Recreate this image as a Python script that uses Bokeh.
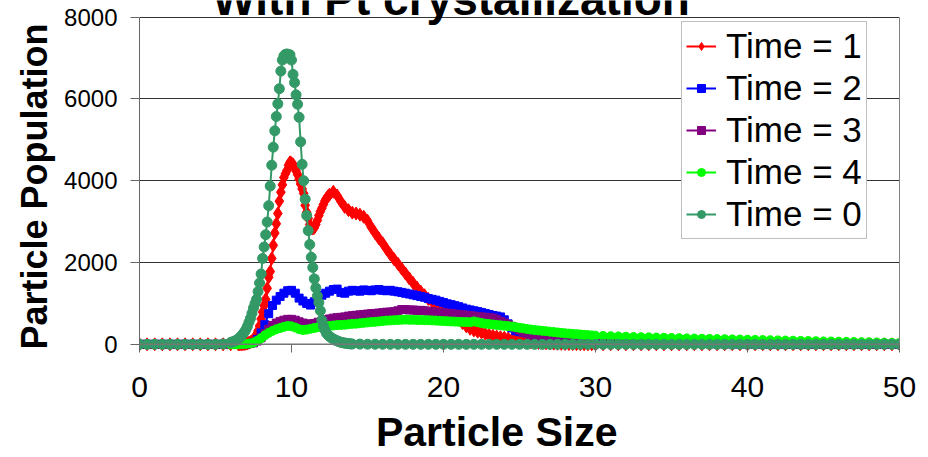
import numpy as np
from bokeh.plotting import figure
from bokeh.models import (Range1d, FixedTicker, Label, Legend, LegendItem, Span,
                          LinearAxis)
from bokeh.embed import file_html
from bokeh.resources import INLINE

# ---------------- data ----------------
title_text = "With Pt crystallization"
x_title = "Particle Size"
y_title = "Particle Population"
series_names = ["Time = 1", "Time = 2", "Time = 3", "Time = 4", "Time = 0"]
x_ticks = [0, 10, 20, 30, 40, 50]
y_ticks = [0, 2000, 4000, 6000, 8000]

# Time = 0 : segments (start, step, values)
t0_a = [0, 0, 0, 0, 0, 0, 0, 0, 0, 0, 0, 10]                     # 0 .. 5.5 step 0.5
t0_b = [45, 56, 70, 85, 105, 130, 165, 200, 250, 300,             # 6.0 .. 14.0 step 0.1
        360, 440, 540, 635, 760, 890, 1000, 1100, 1290, 1500,
        1720, 2100, 2380, 2680, 2990, 3390, 3870, 4380, 4820, 5220,
        5570, 5880, 6250, 6680, 6950, 7050, 7090, 7100, 7000, 7080,
        6950, 6600, 6400, 6100, 5870, 5550, 4950, 4400, 4000, 3550,
        3150, 2780, 2440, 2130, 1880, 1600, 1380, 1180, 1020, 820,
        590, 450, 350, 270, 230, 195, 165, 140, 120, 100,
        85, 70, 56, 45, 38, 30, 25, 20, 15, 10, 8]
t0_c = [5, 3, 2, 1, 0, 0, 0, 0, 0, 0, 0, 0, 0, 0, 0, 0, 0, 0,      # 14.5 .. 50 step 0.5
        0, 0, 0, 0, 0, 0, 0, 0, 0, 0, 0, 0, 0, 0, 0, 0, 0, 0,
        0, 0, 0, 0, 0, 0, 0, 0, 0, 0, 0, 0, 0, 0, 0, 0, 0, 0,
        0, 0, 0, 0, 0, 0, 0, 0, 0, 0, 0, 0, 0, 0, 0, 0, 0, 0]

# Time = 1
t1_a = [0, 0, 0, 0, 0, 0, 0, 0, 0, 0, 0, 0, 0, 0]                  # 0 .. 6.5 step 0.5
t1_b = [0, 0, 5, 10,                                               # 6.6 .. 12.4 step 0.1
        15, 25, 40, 55, 75, 100, 160, 240, 330, 450,
        620, 790, 950, 1100, 1370, 1640, 1780, 2100, 2420, 2720,
        2950, 3200, 3500, 3720, 3900, 4080, 4170, 4250, 4380, 4450,
        4430, 4400, 4330, 4240, 4150, 4040, 3920, 3800, 3690, 3400,
        3230, 3080, 2930, 2860, 2830, 2850, 2930, 3030, 3150, 3250,
        3330, 3420, 3510, 3570, 3620]
t1_c = [3660, 3730, 3640, 3490, 3360, 3280, 3220, 3200, 3170, 3120,  # 12.5 .. 30 step 0.25
        3020, 2860, 2720, 2590, 2470, 2330, 2200, 2080, 1970, 1850,
        1730, 1610, 1500, 1390, 1290, 1200, 1110, 1040, 990, 960,
        930, 880, 820, 720, 620, 520, 440, 380, 340, 310,
        290, 260, 230, 210, 190, 175, 160, 140, 120, 105,
        90, 75, 60, 50, 40, 35, 30, 25, 20, 17,
        14, 12, 10, 8, 6, 5, 4, 3, 2, 1, 0]
t1_d = [0, 0, 0, 0, 0, 0, 0, 0, 0, 0, 0, 0, 0, 0, 0, 0, 0, 0, 0, 0,  # 30.5 .. 50 step 0.5
        0, 0, 0, 0, 0, 0, 0, 0, 0, 0, 0, 0, 0, 0, 0, 0, 0, 0, 0, 0]

# Time = 2
t2_a = [0, 0, 0, 0, 0, 0, 0, 0, 0, 0, 0, 0, 0]                     # 0 .. 6 step 0.5
t2_b = [0, 0, 5, 10, 20, 40, 120, 280, 480, 750,                   # 6.25 .. 30 step 0.25
        950, 1080, 1170, 1250, 1310, 1320, 1250, 1130, 1060, 1000,
        960, 1040, 1150, 1200, 1250, 1300, 1340, 1350, 1270, 1250,
        1300, 1320, 1310, 1300, 1330, 1320, 1310, 1330, 1340, 1320,
        1310, 1320, 1300, 1285, 1270, 1250, 1230, 1210, 1190, 1170,
        1150, 1120, 1100, 1080, 1050, 1020, 990, 970, 945, 920,
        890, 860, 840, 820, 800, 780, 755, 730, 705, 690,
        670, 600, 500, 400, 330, 310, 295, 280, 265, 250,
        235, 220, 205, 195, 185, 175, 165, 155, 150, 145,
        140, 130, 120, 110, 105, 95, 90, 85, 80]
t2_c = [75, 70, 65, 60, 55, 50, 45, 40, 36, 32,                    # 30.5 .. 50 step 0.5
        28, 25, 22, 20, 18, 16, 14, 12, 10, 9,
        8, 7, 6, 5, 5, 4, 4, 3, 3, 3,
        2, 2, 2, 2, 1, 1, 1, 1, 1, 0]

# Time = 3
t3_a = [0, 0, 0, 0, 0, 0, 0, 0, 0, 0, 0, 0, 0]
t3_b = [0, 0, 5, 10, 20, 40, 80, 160, 260, 370,
        460, 520, 560, 590, 610, 610, 590, 550, 520, 500,
        490, 510, 540, 570, 600, 620, 640, 650, 660, 670,
        690, 700, 710, 720, 730, 740, 750, 755, 765, 775,
        785, 790, 800, 820, 850, 850, 840, 840, 830, 830,
        820, 810, 800, 790, 780, 770, 760, 750, 740, 730,
        720, 710, 700, 690, 680, 670, 660, 650, 640, 600,
        560, 520, 480, 440, 400, 350, 300, 260, 230, 200,
        185, 170, 160, 150, 140, 130, 125, 120, 110, 100,
        95, 90, 85, 80, 75, 70]
t3_c = [65, 60, 55, 50, 45, 42, 40, 36, 33, 30,
        27, 24, 22, 20, 18, 16, 14, 12, 11, 10,
        9, 8, 7, 6, 5, 5, 4, 4, 3, 3,
        3, 2, 2, 2, 2, 1, 1, 1, 1, 0]

# Time = 4
t4_a = [0, 0, 0, 0, 0, 0, 0, 0, 0, 0, 0, 0, 0]
t4_b = [0, 0, 5, 10, 20, 40, 90, 150, 220, 280,
        330, 370, 400, 430, 450, 440, 410, 370, 350, 360,
        380, 400, 420, 430, 440, 450, 460, 470, 475, 480,
        490, 500, 505, 515, 525, 535, 545, 550, 560, 570,
        580, 585, 590, 595, 600, 605, 600, 600, 595, 595,
        590, 590, 585, 580, 575, 570, 565, 560, 555, 550,
        548, 545, 540, 560, 540, 520, 505, 495, 485, 475,
        465, 455, 445, 435, 420, 405, 390, 375, 360, 350,
        340, 330, 320, 310, 300, 290, 280, 270, 262, 255,
        248, 240, 232, 225, 218, 212]
t4_c = [205, 198, 192, 186, 180, 175, 170, 165, 160, 155,
        150, 145, 140, 136, 132, 128, 124, 120, 116, 112,
        108, 104, 100, 96, 92, 88, 84, 80, 76, 72,
        68, 64, 60, 56, 52, 48, 44, 40, 36, 32]

t0_segments = [(0.0, 0.5, t0_a), (6.0, 0.1, t0_b), (14.5, 0.5, t0_c)]
t1_segments = [(0.0, 0.5, t1_a), (6.6, 0.1, t1_b), (12.5, 0.25, t1_c), (30.5, 0.5, t1_d)]
t2_segments = [(0.0, 0.5, t2_a), (6.25, 0.25, t2_b), (30.5, 0.5, t2_c)]
t3_segments = [(0.0, 0.5, t3_a), (6.25, 0.25, t3_b), (30.5, 0.5, t3_c)]
t4_segments = [(0.0, 0.5, t4_a), (6.25, 0.25, t4_b), (30.5, 0.5, t4_c)]


def build(segments):
    xs, ys = [], []
    for start, step, vals in segments:
        xs.extend(np.round(start + step * np.arange(len(vals)), 3).tolist())
        ys.extend(vals)
    return xs, ys


FONT = "Liberation Sans"
NB = "\u00a0"

p = figure(width=928, height=457,
           x_range=Range1d(0, 50), y_range=Range1d(-200, 8407),
           output_backend="svg", toolbar_location=None,
           min_border_left=139, min_border_right=29,
           min_border_top=0, min_border_bottom=104)

p.outline_line_color = None
p.background_fill_color = "white"
p.border_fill_color = "white"

# ---- axes ----
for ax in (p.xaxis, p.yaxis):
    ax.major_tick_line_color = "#666666"
    ax.minor_tick_line_color = None
    ax.major_label_text_font = FONT
    ax.major_label_text_color = "black"
    ax.axis_label_text_font = FONT
    ax.axis_label_text_font_style = "bold"
    ax.axis_label_text_color = "black"

p.xaxis.ticker = FixedTicker(ticks=x_ticks)
p.xaxis.axis_line_color = None
p.xaxis.major_tick_in = 8
p.xaxis.major_tick_out = 0
p.xaxis.major_label_text_font_size = "30px"
p.xaxis.major_label_standoff = 24
p.xaxis.axis_label = x_title + NB * 4
p.xaxis.axis_label_text_font_size = "41px"
p.xaxis.axis_label_standoff = 9

p.yaxis.ticker = FixedTicker(ticks=y_ticks)
p.yaxis.bounds = (0, 8000)
p.yaxis.axis_line_color = "#666666"
p.yaxis.major_tick_in = 0
p.yaxis.major_tick_out = 9
p.yaxis.major_label_text_font_size = "24px"
p.yaxis.major_label_standoff = 13
p.yaxis.axis_label = y_title + NB * 2
p.yaxis.axis_label_text_font_size = "36px"
p.yaxis.axis_label_standoff = 6

right_axis = LinearAxis(ticker=FixedTicker(ticks=[]), bounds=(0, 8000),
                        axis_line_color="#808080", major_tick_line_color=None,
                        minor_tick_line_color=None, major_label_text_font_size="0px")
p.add_layout(right_axis, "right")

p.xgrid.visible = False
p.ygrid.ticker = FixedTicker(ticks=y_ticks[1:])
p.ygrid.grid_line_color = "#333333"
p.ygrid.grid_line_width = 1

p.add_layout(Span(location=0, dimension="width", line_color="#777777", line_width=1.5))

styles = [
    (t1_segments, "#FF0000", "diamond", 13),
    (t2_segments, "#0000FF", "square", 8),
    (t3_segments, "#800080", "square", 8),
    (t4_segments, "#00FF00", "circle", 9),
    (t0_segments, "#339966", "circle", 10),
]

items = []
for name, (segs, color, marker, size) in zip(series_names, styles):
    xs, ys = build(segs)
    lr = p.line(xs, ys, line_color=color, line_width=2)
    sr = p.scatter(xs, ys, marker=marker, size=size, fill_color=color, line_color=color)
    items.append(LegendItem(label=name, renderers=[lr, sr]))

legend = Legend(items=items, location=(542, 113),
                label_text_font=FONT, label_text_font_size="35px",
                label_text_color="black",
                glyph_width=30, glyph_height=20, label_standoff=10,
                label_height=38, spacing=2, padding=4, margin=0,
                border_line_color="#808080", border_line_width=1,
                background_fill_color="white", background_fill_alpha=1)
p.add_layout(legend)

p.add_layout(Label(x=20.5, y=7804, text=title_text,
                   text_align="center", text_baseline="bottom",
                   text_font=FONT, text_font_size="46px", text_font_style="bold",
                   text_color="black"))

open("out.html", "w").write(file_html(p, INLINE))
